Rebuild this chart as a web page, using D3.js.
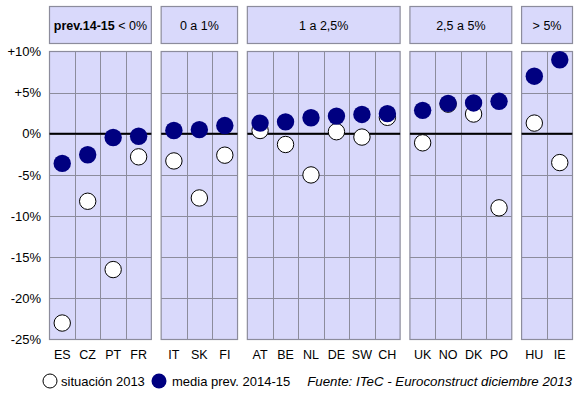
<!DOCTYPE html>
<html>
<head>
<meta charset="utf-8">
<script src="https://cdn.jsdelivr.net/npm/d3@7"></script>
<style>
  body { margin: 0; background: #fff; }
  svg text { font-family: Arial, "Liberation Sans", sans-serif; }
</style>
</head>
<body>
<div id="chart"></div>
<script>
// data
var groupLabels = ['prev.14-15 < 0%', '0 a 1%', '1 a 2,5%', '2,5 a 5%', '> 5%'];
var countries = ['ES','CZ','PT','FR', 'IT','SK','FI', 'AT','BE','NL','DE','SW','CH', 'UK','NO','DK','PO', 'HU','IE'];
var countryGroup = [0,0,0,0, 1,1,1, 2,2,2,2,2,2, 3,3,3,3, 4,4];
var situacion2013 = [-23.0,-8.2,-16.5,-2.8, -3.3,-7.8,-2.6, 0.4,-1.3,-5.0,0.25,-0.4,2.0, -1.1,3.6,2.4,-9.0, 1.3,-3.5];
var mediaPrev = [-3.6,-2.55,-0.45,-0.3, 0.4,0.5,1.0, 1.3,1.45,1.95,2.15,2.35,2.45, 2.85,3.7,3.75,3.95, 7.0,9.0];
var yTicks = [10,5,0,-5,-10,-15,-20,-25];

var svgWidth = 587, svgHeight = 396;
var gapRatio = 0.385;

var svg = d3.select('#chart').append('svg')
    .attr('width', svgWidth)
    .attr('height', svgHeight);

var yScale = d3.scaleLinear().domain([-25, 10]).range([339.5, 51.5]);
var slotScale = d3.scaleLinear()
    .domain([0, countries.length + (groupLabels.length - 1) * gapRatio])
    .range([49.5, 572.5]);

function slot(i) { return i + countryGroup[i] * gapRatio; }

var panelFill = '#d9d9fb';
var lineGray = '#8c8c9c';

// panels
groupLabels.forEach(function(label, g) {
    var idx = countries.map(function(c, i) { return i; }).filter(function(i) { return countryGroup[i] === g; });
    var x0 = slotScale(slot(idx[0]));
    var x1 = slotScale(slot(idx[idx.length - 1]) + 1);

    var panel = svg.append('g');
    panel.append('rect')
        .attr('x', x0).attr('y', yScale(10))
        .attr('width', x1 - x0).attr('height', yScale(-25) - yScale(10))
        .attr('fill', panelFill);

    // horizontal grid
    panel.selectAll('.hgrid').data(yTicks.slice(1, -1)).enter()
        .append('line')
        .attr('x1', x0).attr('x2', x1)
        .attr('y1', d => Math.round(yScale(d)) + 0.5).attr('y2', d => Math.round(yScale(d)) + 0.5)
        .attr('stroke', lineGray).attr('stroke-width', 1);

    // vertical grid
    panel.selectAll('.vgrid').data(idx.slice(1)).enter()
        .append('line')
        .attr('x1', d => Math.round(slotScale(slot(d))) + 0.5).attr('x2', d => Math.round(slotScale(slot(d))) + 0.5)
        .attr('y1', yScale(10)).attr('y2', yScale(-25))
        .attr('stroke', lineGray).attr('stroke-width', 1);

    panel.append('rect')
        .attr('x', x0).attr('y', yScale(10))
        .attr('width', x1 - x0).attr('height', yScale(-25) - yScale(10))
        .attr('fill', 'none').attr('stroke', lineGray).attr('stroke-width', 1.2);

    // zero line
    panel.append('line')
        .attr('x1', x0).attr('x2', x1)
        .attr('y1', yScale(0)).attr('y2', yScale(0))
        .attr('stroke', '#000').attr('stroke-width', 2);

    // header box
    panel.append('rect')
        .attr('x', x0).attr('y', 6.5)
        .attr('width', x1 - x0).attr('height', 37)
        .attr('fill', panelFill).attr('stroke', lineGray).attr('stroke-width', 1.2);

    var ht = panel.append('text')
        .attr('x', (x0 + x1) / 2).attr('y', 29.5)
        .attr('text-anchor', 'middle')
        .attr('font-size', '12.5px')
        .attr('fill', '#000');
    if (g === 0) {
        ht.append('tspan').attr('font-weight', 'bold').text('prev.14-15');
        ht.append('tspan').text(' < 0%');
    } else {
        ht.text(label);
    }
});

// y axis
var leftAxis = d3.axisLeft(yScale)
    .tickValues(yTicks)
    .tickSize(0)
    .tickPadding(8)
    .tickFormat(d => (d > 0 ? '+' : '') + d + '%');

var yAxisG = svg.append('g')
    .attr('transform', 'translate(49,0)')
    .call(leftAxis);
yAxisG.select('.domain').remove();
yAxisG.selectAll('text')
    .attr('font-size', '13px')
    .attr('font-family', 'Arial, "Liberation Sans", sans-serif')
    .attr('fill', '#000');

// x labels
svg.append('g').selectAll('text').data(countries).enter()
    .append('text')
    .attr('x', (d, i) => slotScale(slot(i) + 0.5))
    .attr('y', 359)
    .attr('text-anchor', 'middle')
    .attr('font-size', '12.5px')
    .attr('fill', '#000')
    .text(d => d);

// points: situacion 2013 first, then media prev on top
svg.append('g').selectAll('circle').data(situacion2013).enter()
    .append('circle')
    .attr('cx', (d, i) => slotScale(slot(i) + 0.5))
    .attr('cy', d => yScale(d))
    .attr('r', 8.2)
    .attr('fill', '#fff')
    .attr('stroke', '#000')
    .attr('stroke-width', 1);

svg.append('g').selectAll('circle').data(mediaPrev).enter()
    .append('circle')
    .attr('cx', (d, i) => slotScale(slot(i) + 0.5))
    .attr('cy', d => yScale(d))
    .attr('r', 8.7)
    .attr('fill', '#000080');

// legend
var legend = svg.append('g').attr('font-size', '13px');
legend.append('circle').attr('cx', 50).attr('cy', 381).attr('r', 7)
    .attr('fill', '#fff').attr('stroke', '#000').attr('stroke-width', 1);
legend.append('text').attr('x', 61).attr('y', 386).text('situación 2013');
legend.append('circle').attr('cx', 159).attr('cy', 381).attr('r', 7.5)
    .attr('fill', '#000080');
legend.append('text').attr('x', 172).attr('y', 386).text('media prev. 2014-15');
legend.append('text').attr('x', 572).attr('y', 386)
    .attr('text-anchor', 'end')
    .attr('font-style', 'italic')
    .attr('font-size', '13.3px')
    .text('Fuente: ITeC - Euroconstruct diciembre 2013');
</script>
</body>
</html>
